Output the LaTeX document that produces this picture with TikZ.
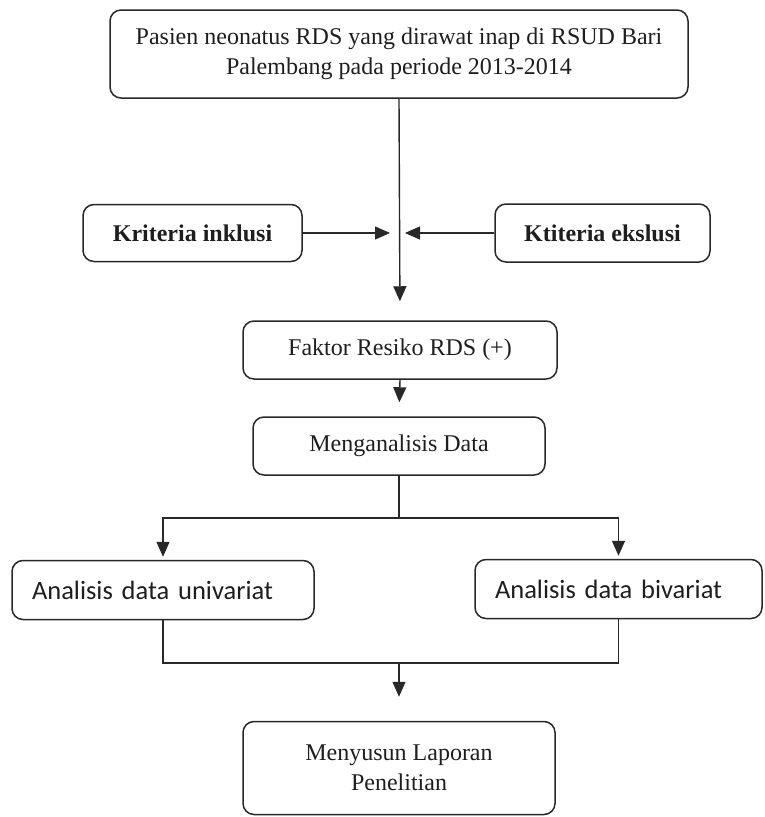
\documentclass[tikz,border=0pt]{standalone}
\usepackage{fontspec}
\setmainfont{Liberation Serif}
\newfontfamily\calibrifont[WordSpace=0.8]{Carlito}
\usetikzlibrary{arrows.meta}
\definecolor{inkgray}{RGB}{30, 30, 30}
\definecolor{linegray}{RGB}{40, 40, 40}

\begin{document}
\begin{tikzpicture}[x=1pt, y=-1pt,
    kotak/.style={draw=linegray, line width=1.5pt, rounded corners=11pt, inner sep=0pt,
                  text=inkgray, align=center, font=\fontsize{24}{30}\selectfont},
    kotaksans/.style={kotak, align=left, font=\calibrifont\fontsize{26.5}{31}\selectfont},
    garis/.style={draw=linegray, line width=1.4pt},
    panah/.style={garis, -{Triangle[length=15pt, width=13pt]}}]
            \useasboundingbox (0,0) rectangle (764,817);
            % kotak-kotak
            \node[kotak, minimum width=578pt, minimum height=88pt]  (pasien)    at (399, 54)
                 {Pasien neonatus RDS yang dirawat inap di RSUD Bari\\Palembang pada periode 2013-2014};
            \node[kotak, minimum width=219pt, minimum height=57pt, font=\fontsize{24}{30}\selectfont\bfseries] (inklusi)   at (192.5, 233) {Kriteria inklusi};
            \node[kotak, minimum width=215pt, minimum height=58pt, font=\fontsize{24}{30}\selectfont\bfseries] (ekslusi)   at (602.5, 233) {Ktiteria ekslusi};
            \node[kotak, minimum width=314pt, minimum height=58pt]  (faktor)    at (400, 350) {Faktor Resiko RDS (+)};
            \node[kotak, minimum width=292pt, minimum height=58pt]  (analisis)  at (399, 446) {Menganalisis Data};
            \node[kotaksans, minimum width=302pt, minimum height=59pt, text width=262pt] (univariat) at (163, 590) {Analisis data univariat};
            \node[kotaksans, minimum width=287pt, minimum height=59pt, text width=247pt] (bivariat)  at (618.5, 589) {Analisis data bivariat};
            \node[kotak, minimum width=312pt, minimum height=93pt]  (laporan)   at (399, 768) {Menyusun Laporan\\Penelitian};
            % titik bantu
            \coordinate (tengah) at (398, 233);
            \coordinate (cabang) at (399, 518);
            \coordinate (gabung) at (399, 663);
            % panah
            \draw[panah, shorten >=19pt] (pasien.south) -- (faktor.north);
            \draw[panah, shorten >=8pt]  (inklusi.east) -- (tengah);
            \draw[panah, shorten >=7pt]  (ekslusi.west) -- (tengah);
            \draw[panah, shorten >=14pt] (faktor.south) -- (analisis.north);
            \draw[garis]                 (analisis.south) -- (cabang);
            \draw[panah, shorten >=3pt]  (cabang) -| (univariat.north);
            \draw[panah, shorten >=3pt]  (cabang) -| (bivariat.north);
            \draw[garis]                 (univariat.south) |- (gabung) -| (bivariat.south);
            \draw[panah, shorten >=24pt] (gabung) -- (laporan.north);
\end{tikzpicture}
\end{document}
